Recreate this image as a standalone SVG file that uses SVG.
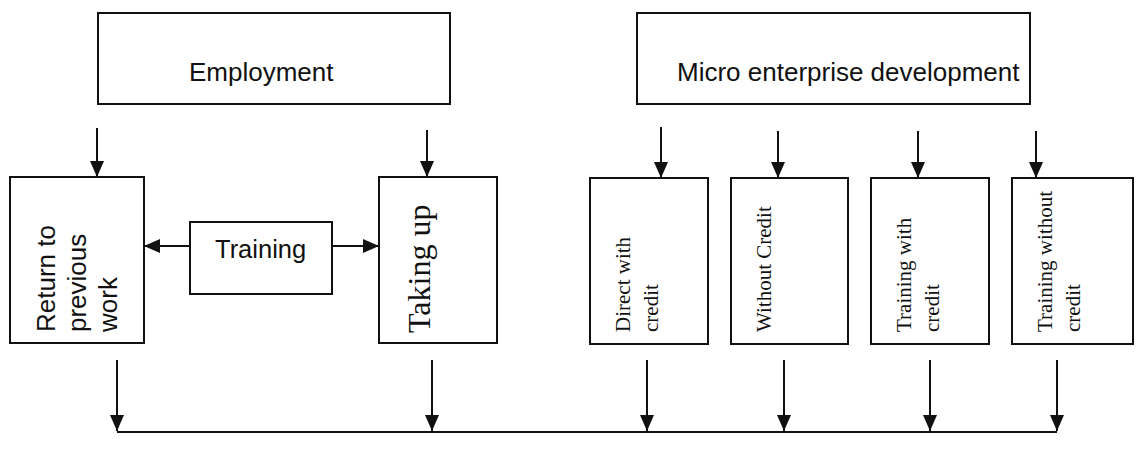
<svg xmlns="http://www.w3.org/2000/svg" width="1137" height="452" viewBox="0 0 1137 452">
<style>
.box{fill:#fff;stroke:#111;stroke-width:2}
.sans{font-family:"Liberation Sans",Arial,sans-serif;fill:#111}
.serif{font-family:"Liberation Serif","Times New Roman",serif;fill:#111}
.conn{stroke:#111;stroke-width:2;fill:none}
</style>
<defs>
<marker id="ah" markerUnits="userSpaceOnUse" markerWidth="16" markerHeight="14" viewBox="0 0 16 14" refX="16" refY="7" orient="auto">
<path d="M0,0 L16,7 L0,14 Z" fill="#111"/>
</marker>
</defs>
<rect width="1137" height="452" fill="#fff"/>
<g id="employment">
<rect class="box" x="98" y="13" width="352" height="91"/>
<text class="sans" x="189" y="81" font-size="26">Employment</text>
</g>
<g id="micro">
<rect class="box" x="637" y="13" width="393" height="91"/>
<text class="sans" x="677" y="81" font-size="26">Micro enterprise development</text>
</g>
<g id="return">
<rect class="box" x="10" y="177" width="134" height="166"/>
<text class="sans" font-size="26" transform="translate(0,332) rotate(-90)"><tspan x="0" y="55">Return to</tspan><tspan x="0" y="86">previous</tspan><tspan x="0" y="117">work</tspan></text>
</g>
<g id="training">
<rect class="box" x="190" y="222" width="142" height="72"/>
<text class="sans" x="215" y="258" font-size="25.5">Training</text>
</g>
<g id="taking">
<rect class="box" x="379" y="177" width="118" height="166"/>
<text class="serif" font-size="32" transform="translate(0,333) rotate(-90)"><tspan x="0" y="430">Taking up</tspan></text>
</g>
<g id="direct">
<rect class="box" x="590" y="178" width="118" height="166"/>
<text class="serif" font-size="21" transform="translate(0,332) rotate(-90)"><tspan x="0" y="630">Direct with</tspan><tspan x="0" y="658">credit</tspan></text>
</g>
<g id="without">
<rect class="box" x="731" y="178" width="117" height="166"/>
<text class="serif" font-size="21" transform="translate(0,332) rotate(-90)"><tspan x="0" y="771">Without Credit</tspan></text>
</g>
<g id="trainingwith">
<rect class="box" x="871" y="178" width="118" height="166"/>
<text class="serif" font-size="21" transform="translate(0,332) rotate(-90)"><tspan x="0" y="911">Training with</tspan><tspan x="0" y="939">credit</tspan></text>
</g>
<g id="trainingwithout">
<rect class="box" x="1012" y="178" width="121" height="166"/>
<text class="serif" font-size="21" transform="translate(0,332) rotate(-90)"><tspan x="0" y="1052">Training without</tspan><tspan x="0" y="1080">credit</tspan></text>
</g>
<g id="connectors">
<path class="conn" d="M97,128 V177" marker-end="url(#ah)"/>
<path class="conn" d="M427,130 V177" marker-end="url(#ah)"/>
<path class="conn" d="M661,127 V178" marker-end="url(#ah)"/>
<path class="conn" d="M778,131 V178" marker-end="url(#ah)"/>
<path class="conn" d="M918,131 V178" marker-end="url(#ah)"/>
<path class="conn" d="M1036,131 V178" marker-end="url(#ah)"/>
<path class="conn" d="M190,246 H144" marker-end="url(#ah)"/>
<path class="conn" d="M332,246 H379" marker-end="url(#ah)"/>
<path class="conn" d="M117,360 V431" marker-end="url(#ah)"/>
<path class="conn" d="M432,360 V431" marker-end="url(#ah)"/>
<path class="conn" d="M647,360 V431" marker-end="url(#ah)"/>
<path class="conn" d="M784,360 V431" marker-end="url(#ah)"/>
<path class="conn" d="M930,360 V431" marker-end="url(#ah)"/>
<path class="conn" d="M1057,360 V431" marker-end="url(#ah)"/>
<path class="conn" d="M117,432 H1057"/>
</g>
</svg>
